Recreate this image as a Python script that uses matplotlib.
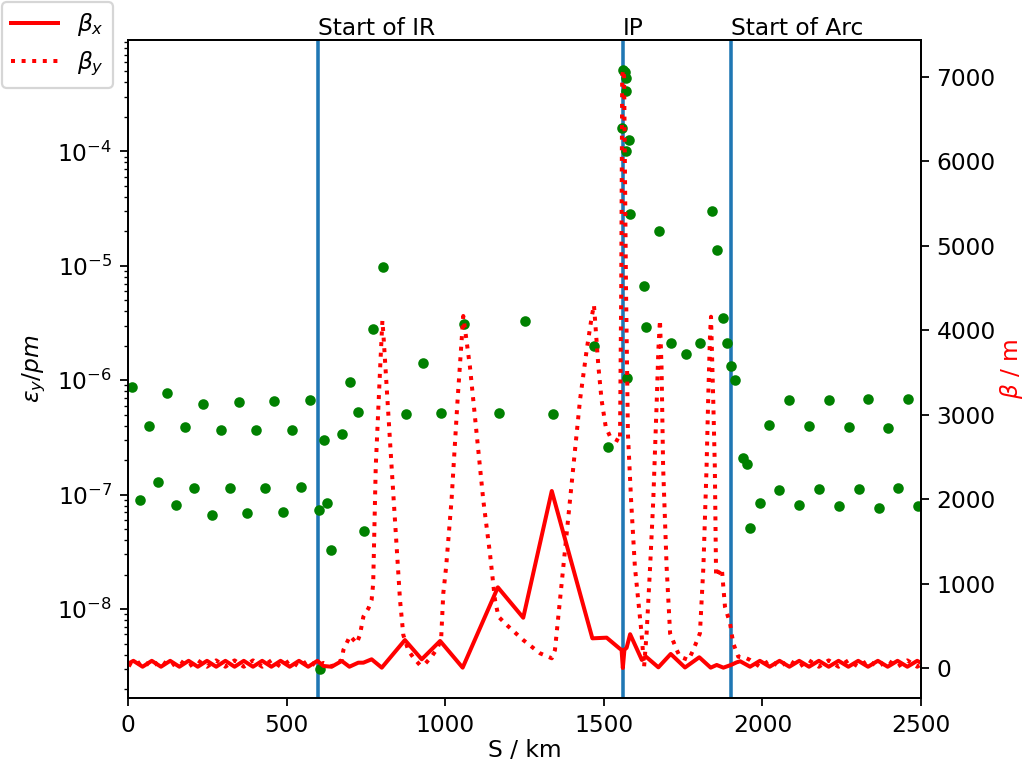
import matplotlib
matplotlib.use("Agg")
import matplotlib.pyplot as plt
import matplotlib.transforms as mtransforms

plt.rcParams["font.size"] = 10.5

# emittance samples (green points), S in km
s_eps = [11.7, 38.8, 67.2, 95.5, 123.9, 151.3, 179.7, 208, 236.4, 264.8, 292.2,
         320.6, 349, 376, 404.5, 432.8, 461.2, 488.7, 517, 545.4, 573.8, 602, 604,
         618, 628, 639, 674, 700, 724, 745, 773, 805, 876, 931, 987, 1060, 1169,
         1252, 1339, 1469, 1512, 1556.5, 1559.5, 1566.8, 1569, 1569, 1571, 1574,
         1579.4, 1583.6, 1626, 1632, 1675, 1711, 1758, 1803, 1840, 1857, 1875,
         1887, 1901, 1915, 1940, 1951, 1961, 1991.5, 2022, 2053, 2084, 2115, 2147,
         2178, 2209, 2241, 2272, 2304, 2334, 2367, 2397, 2428, 2459, 2490]
eps_y = [8.7e-7, 9.0e-8, 4.0e-7, 1.29e-7, 7.8e-7, 8.1e-8, 3.9e-7, 1.15e-7, 6.2e-7,
         6.6e-8, 3.7e-7, 1.15e-7, 6.4e-7, 6.9e-8, 3.7e-7, 1.15e-7, 6.6e-7, 7.0e-8,
         3.7e-7, 1.17e-7, 6.7e-7, 7.3e-8, 3.0e-9, 3.0e-7, 8.5e-8, 3.3e-8, 3.4e-7,
         9.6e-7, 5.3e-7, 4.8e-8, 2.8e-6, 9.8e-6, 5.1e-7, 1.4e-6, 5.2e-7, 3.1e-6,
         5.2e-7, 3.3e-6, 5.1e-7, 2.0e-6, 2.6e-7, 1.59e-4, 5.1e-4, 4.9e-4, 4.4e-4,
         1.0e-4, 3.35e-4, 1.04e-6, 1.26e-4, 2.84e-5, 6.6e-6, 2.9e-6, 2.03e-5,
         2.1e-6, 1.7e-6, 2.1e-6, 3.0e-5, 1.36e-5, 3.5e-6, 2.1e-6, 1.34e-6, 1.0e-6,
         2.1e-7, 1.87e-7, 5.1e-8, 8.4e-8, 4.1e-7, 1.1e-7, 6.7e-7, 8.1e-8, 4.0e-7,
         1.12e-7, 6.7e-7, 7.9e-8, 3.9e-7, 1.13e-7, 6.8e-7, 7.6e-8, 3.8e-7, 1.15e-7,
         6.9e-7, 8.0e-8]

# horizontal beta function
s_bx = [0, 17, 46, 75, 104, 133, 162, 191, 220, 249, 278, 307, 336, 365, 394, 423,
        452, 481, 510, 539, 568, 597, 616, 642, 674, 698, 726, 742, 768, 800, 873,
        926, 984, 1055, 1166, 1246, 1336, 1464, 1509, 1550, 1556, 1560, 1565, 1572,
        1583, 1620, 1633, 1672, 1711, 1756, 1801, 1837, 1856, 1877, 1901, 1919,
        1930, 1961, 1992, 2023, 2054, 2085, 2116, 2147, 2178, 2209, 2240, 2271,
        2302, 2333, 2364, 2395, 2426, 2457, 2488, 2500]
beta_x = [50, 85, 15, 85, 15, 85, 15, 85, 15, 85, 15, 85, 15, 85, 15, 85,
          15, 85, 15, 85, 15, 85, 24, 15, 83, 15, 63, 63, 103, 4, 331,
          103, 320, 4, 955, 595, 2095, 351, 359, 230, 215, 0.3, 215, 240,
          400, 95, 134, 8, 166, 6, 127, 4, 36, 4, 36, 67,
          80, 15, 85, 15, 85, 15, 85, 15, 85, 15, 85, 15,
          85, 15, 85, 15, 85, 15, 85, 60]

# vertical beta function
s_by = [0, 17, 46, 75, 104, 133, 162, 191, 220, 249, 278, 307, 336, 365, 394, 423,
        452, 481, 510, 539, 568, 597, 616, 642, 674, 679, 700, 721, 731, 742, 758,
        768, 773, 781, 795, 802, 805, 831, 857.5, 868, 884, 900, 920, 936, 957, 973,
        987, 994, 1003, 1020, 1039, 1057, 1078, 1099, 1120, 1141, 1157, 1168, 1194,
        1246, 1299, 1336, 1346, 1362, 1383, 1404, 1425, 1446, 1462, 1469, 1483, 1493,
        1506, 1520, 1530, 1551, 1555, 1558, 1561, 1564, 1570, 1576, 1586, 1598, 1619,
        1627, 1635, 1646, 1656, 1667, 1672, 1677, 1682, 1687, 1698, 1709, 1730, 1740,
        1767, 1782, 1803, 1814, 1824, 1829, 1835, 1838, 1845, 1850, 1854, 1872, 1882,
        1898, 1908, 1924, 1950, 1961, 1992, 2023, 2054, 2085, 2116, 2147, 2178, 2209,
        2240, 2271, 2302, 2333, 2364, 2395, 2426, 2457, 2488, 2500]
beta_y = [50, 15, 90, 15, 90, 15, 90, 15, 90, 15, 90, 15, 90, 15, 90, 15,
          90, 15, 90, 15, 90, 15, 60, 20, 95, 213, 380, 292, 390, 607, 706,
          805, 1002, 2380, 3560, 4110, 3960, 2382, 805, 390, 205, 122, 36, 47, 134, 221,
          331, 884, 1199, 1988, 3172, 4166, 3566, 2777, 1988, 1357, 805, 607, 509,
          331, 174, 115, 213, 805, 1594, 2382, 3172, 3763, 4157, 4296, 3566, 3172,
          2856, 2737, 2718, 2678, 4500, 7000, 7078, 7000, 4500, 2777, 1988, 1199, 410,
          15, 410, 1199, 1988, 3172, 3763, 4118, 3566, 2382, 1199, 410, 213, 134,
          95, 213, 410, 1199, 2382, 3172, 3960, 4157, 3172, 2382, 1080, 1180, 725,
          529, 292, 134, 115, 95, 15, 90, 15, 90, 15, 90, 15, 90, 15,
          90, 15, 90, 15, 90, 15, 90, 15, 40]

markers = [(600, "Start of IR"), (1560, "IP"), (1900, "Start of Arc")]

fig = plt.figure(figsize=(1029 / 160, 767 / 160), dpi=160)
ax = fig.add_axes([128 / 1029, 1 - 698 / 767, (921 - 128) / 1029, (698 - 40) / 767])

for xpos, label in markers:
    ax.axvline(xpos, color="C0", lw=1.6, zorder=1)
trans = mtransforms.blended_transform_factory(ax.transData, ax.transAxes)
for xpos, label in markers:
    ax.text(xpos, 1.0, label, transform=trans, ha="left", va="bottom")

ax.semilogy(s_eps, eps_y, "g.", ms=7.5, zorder=2)
ax.set_xlim(0, 2500)
ax.set_ylim(1.67e-9, 9.4e-4)
ax.set_xlabel("S / km", labelpad=1)
ax.set_ylabel(r"$\epsilon_y/pm$")

ax2 = ax.twinx()
l1, = ax2.plot(s_bx, beta_x, "r-", lw=1.8, label=r"$\beta_x$")
l2, = ax2.plot(s_by, beta_y, "r:", lw=1.8, label=r"$\beta_y$")
ax2.set_ylim(-355, 7432)
ax2.set_ylabel(r"$\beta$ / m", color="red", labelpad=1)

fig.legend(handles=[l1, l2], loc="upper left",
           bbox_to_anchor=(2 / 1029, 1 - 2 / 767), borderaxespad=0)

fig.savefig("out.png", dpi=160)
